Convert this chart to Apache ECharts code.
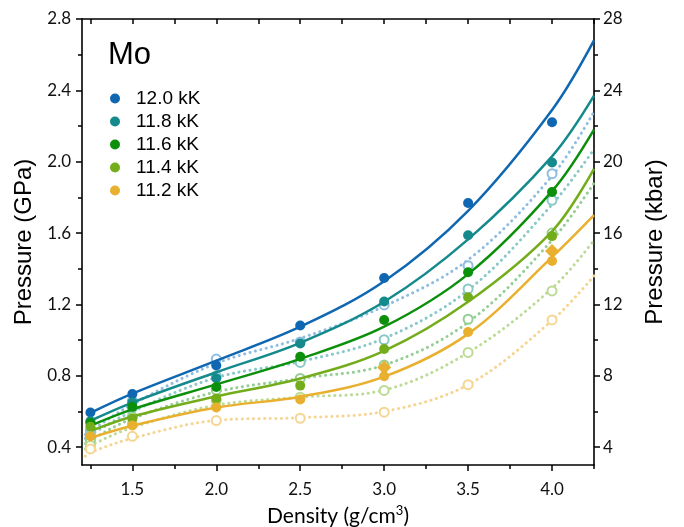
<!DOCTYPE html>
<html>
<head>
<meta charset="utf-8">
<script src="https://cdn.jsdelivr.net/npm/echarts@6/dist/echarts.min.js"></script>
<style>
  html, body { margin: 0; padding: 0; background: #fff; }
  #chart { width: 684px; height: 527px; }
</style>
</head>
<body>
<div id="chart"></div>
<script>
// Measured densities (g/cm^3)
const density = [1.25, 1.5, 2.0, 2.5, 3.0, 3.5, 4.0];

// Temperatures shown in the legend
const temps = ['12.0 kK', '11.8 kK', '11.6 kK', '11.4 kK', '11.2 kK'];

// Pressure (GPa), filled markers
const p120 = [0.594, 0.698, 0.858, 1.082, 1.348, 1.769, 2.221];
const p118 = [0.545, 0.651, 0.786, 0.981, 1.216, 1.588, 1.996];
const p116 = [0.536, 0.626, 0.737, 0.907, 1.113, 1.380, 1.830];
const p114 = [0.514, 0.560, 0.672, 0.745, 0.950, 1.240, 1.583];
const p112 = [0.461, 0.521, 0.623, 0.667, 0.797, 1.046, 1.443];

// Pressure (GPa), open markers
const o120 = [0.49, 0.66, 0.894, 0.99, 1.197, 1.417, 1.933];
const o118 = [0.47, 0.62, 0.80, 0.875, 1.002, 1.287, 1.784];
const o116 = [0.44, 0.57, 0.72, 0.785, 0.86, 1.117, 1.60];
const o114 = [0.41, 0.53, 0.66, 0.68, 0.718, 0.931, 1.276];
const o112 = [0.39, 0.461, 0.549, 0.562, 0.596, 0.75, 1.113];

// Extra 11.2 kK diamond markers
const diamondX = [3.0, 4.0];
const diamond112 = [0.847, 1.499];

// Solid fit curves
const fitX = [1.25, 1.5, 2.0, 2.5, 3.0, 3.5, 4.0, 4.25];
const fit120 = [0.592, 0.70, 0.885, 1.075, 1.33, 1.725, 2.29, 2.68];
const fit118 = [0.548, 0.65, 0.82, 0.985, 1.215, 1.565, 2.03, 2.37];
const fit116 = [0.52, 0.612, 0.752, 0.895, 1.075, 1.37, 1.835, 2.18];
const fit114 = [0.49, 0.572, 0.685, 0.785, 0.94, 1.215, 1.61, 1.96];
const fit112 = [0.452, 0.52, 0.622, 0.683, 0.795, 1.035, 1.465, 1.70];

// Dotted fit curves
const dotX = [1.22, 1.25, 1.5, 2.0, 2.5, 3.0, 3.5, 4.0, 4.25];
const dot120 = [0.47, 0.49, 0.64, 0.87, 1.01, 1.19, 1.45, 1.92, 2.28];
const dot118 = [0.45, 0.47, 0.60, 0.79, 0.88, 1.01, 1.28, 1.76, 2.07];
const dot116 = [0.42, 0.44, 0.56, 0.71, 0.785, 0.86, 1.10, 1.56, 1.88];
const dot114 = [0.39, 0.41, 0.51, 0.635, 0.68, 0.72, 0.93, 1.29, 1.56];
const dot112 = [0.35, 0.37, 0.45, 0.55, 0.565, 0.60, 0.75, 1.11, 1.36];

// Axis ticks
const xMajor = [1.5, 2.0, 2.5, 3.0, 3.5, 4.0];
const xMinor = [1.25, 1.75, 2.25, 2.75, 3.25, 3.75, 4.25];
const gpaMajor = [0.4, 0.8, 1.2, 1.6, 2.0, 2.4, 2.8];
const gpaMinor = [0.6, 1.0, 1.4, 1.8, 2.2, 2.6];
const kbarMajor = [4, 8, 12, 16, 20, 24, 28];
const kbarMinor = [6, 10, 14, 18, 22, 26];

const colors = ['#0f67b1', '#158a8d', '#0c900c', '#73ad1c', '#e9b030'];
const lightColors = ['#8fbde1', '#88c8c8', '#94ce94', '#bbdb94', '#f5d592'];

const filledSets = [p120, p118, p116, p114, p112];
const openSets = [o120, o118, o116, o114, o112];
const fitSets = [fit120, fit118, fit116, fit114, fit112];
const dotSets = [dot120, dot118, dot116, dot114, dot112];

const pairs = (xs, ys) => xs.map((x, i) => [x, ys[i]]);

const tickFont = { fontFamily: 'Lato', fontSize: 17, color: '#111' };
const titleFont = { fontFamily: 'Liberation Sans', fontSize: 24, color: '#000' };

const series = [];
// dotted curves and open markers underneath
dotSets.forEach((ys, i) => {
  series.push({
    name: temps[i] + ' dotted', type: 'line', data: pairs(dotX, ys),
    smooth: 0.35, showSymbol: false, silent: true, z: 1,
    lineStyle: { color: lightColors[i], width: 3, type: [0.1, 5.5], cap: 'round' }
  });
});
openSets.forEach((ys, i) => {
  series.push({
    name: temps[i] + ' open', type: 'scatter', data: pairs(density, ys),
    symbol: 'circle', symbolSize: 9, z: 2,
    itemStyle: { color: '#fff', borderColor: lightColors[i], borderWidth: 2, opacity: 1 }
  });
});
// solid curves and filled markers
fitSets.forEach((ys, i) => {
  series.push({
    name: temps[i] + ' fit', type: 'line', data: pairs(fitX, ys),
    smooth: 0.35, showSymbol: false, silent: true, z: 3,
    lineStyle: { color: colors[i], width: 2.5 }
  });
});
filledSets.forEach((ys, i) => {
  series.push({
    name: temps[i], type: 'scatter', data: pairs(density, ys),
    symbol: 'circle', symbolSize: 10, z: 4,
    itemStyle: { color: colors[i], opacity: 1 }
  });
});
series.push({
  name: '11.2 kK diamond', type: 'scatter', data: pairs(diamondX, diamond112),
  symbol: 'diamond', symbolSize: 14, z: 5,
  itemStyle: { color: colors[4], opacity: 1 }
});

const axisLine = { show: true, lineStyle: { color: '#000', width: 1.6 } };

const option = {
  animation: false,
  backgroundColor: '#fff',
  title: {
    text: 'Mo', left: 103, top: 35,
    textStyle: { fontFamily: 'Liberation Sans', fontSize: 31, fontWeight: 'normal', color: '#000' }
  },
  legend: {
    data: temps, orient: 'vertical', left: 105, top: 84,
    icon: 'circle', itemWidth: 10, itemHeight: 10, itemGap: 4,
    selectedMode: false,
    itemStyle: { opacity: 1 },
    textStyle: { fontFamily: 'Liberation Sans', fontSize: 19, lineHeight: 19, color: '#000', padding: [0, 0, 0, 11] }
  },
  grid: { left: 82, right: 90, top: 19, bottom: 62, outerBoundsMode: 'none' },
  xAxis: [
    {
      type: 'value', min: 1.2, max: 4.25, position: 'bottom',
      name: 'Density (g/cm{sup|3})', nameLocation: 'middle', nameGap: 39,
      nameTextStyle: {
        fontFamily: 'Lato', fontSize: 21, color: '#000',
        rich: { sup: { fontFamily: 'Lato', fontSize: 13, verticalAlign: 'top', padding: [0, 0, 11, 0] } }
      },
      axisLine: axisLine,
      axisTick: { show: true, customValues: xMajor, length: 6, lineStyle: { color: '#000', width: 1.5 } },
      axisLabel: { customValues: xMajor, margin: 16, formatter: v => v.toFixed(1), ...tickFont },
      splitLine: { show: false }
    },
    {
      type: 'value', min: 1.2, max: 4.25, position: 'bottom',
      axisLine: { show: false },
      axisTick: { show: true, customValues: xMinor, length: 4, lineStyle: { color: '#000', width: 1.5 } },
      axisLabel: { show: false }, splitLine: { show: false }
    },
    {
      type: 'value', min: 1.2, max: 4.25, position: 'top',
      axisLine: axisLine,
      axisTick: { show: true, inside: true, customValues: xMajor.concat(xMinor), length: 5, lineStyle: { color: '#000', width: 1.5 } },
      axisLabel: { show: false }, splitLine: { show: false }
    }
  ],
  yAxis: [
    {
      type: 'value', min: 0.3, max: 2.8, position: 'left',
      name: 'Pressure (GPa)', nameLocation: 'middle', nameGap: 42, nameTextStyle: titleFont,
      axisLine: axisLine,
      axisTick: { show: true, customValues: gpaMajor, length: 6, lineStyle: { color: '#000', width: 1.5 } },
      axisLabel: { customValues: gpaMajor, margin: 11, formatter: v => v.toFixed(1), ...tickFont },
      splitLine: { show: false }
    },
    {
      type: 'value', min: 0.3, max: 2.8, position: 'left',
      axisLine: { show: false },
      axisTick: { show: true, customValues: gpaMinor, length: 4, lineStyle: { color: '#000', width: 1.5 } },
      axisLabel: { show: false }, splitLine: { show: false }
    },
    {
      type: 'value', min: 3, max: 28, position: 'right',
      name: 'Pressure (kbar)', nameLocation: 'middle', nameGap: 49, nameTextStyle: titleFont,
      axisLine: axisLine,
      axisTick: { show: true, customValues: kbarMajor, length: 6, lineStyle: { color: '#000', width: 1.5 } },
      axisLabel: { customValues: kbarMajor, margin: 9, ...tickFont },
      splitLine: { show: false }
    },
    {
      type: 'value', min: 3, max: 28, position: 'right',
      axisLine: { show: false },
      axisTick: { show: true, customValues: kbarMinor, length: 4, lineStyle: { color: '#000', width: 1.5 } },
      axisLabel: { show: false }, splitLine: { show: false }
    }
  ],
  series: series
};

const chart = echarts.init(document.getElementById('chart'), null, { renderer: 'canvas' });
chart.setOption(option);
</script>
</body>
</html>
